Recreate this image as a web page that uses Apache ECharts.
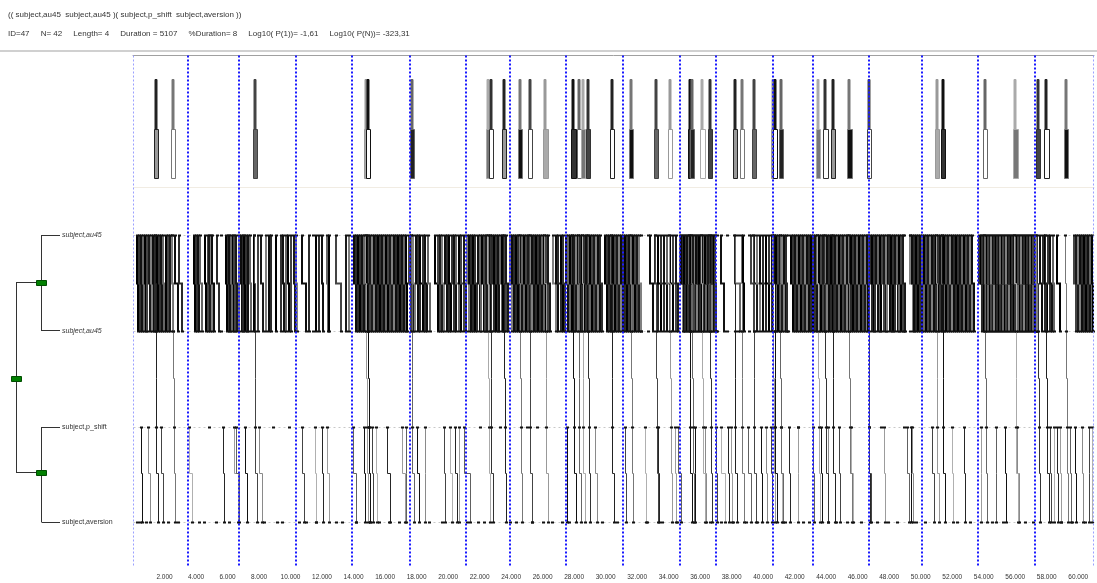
<!DOCTYPE html>
<html><head><meta charset="utf-8">
<script src="https://cdn.jsdelivr.net/npm/echarts@6/dist/echarts.min.js"></script>
<style>html,body{margin:0;padding:0;background:#fff}#c{width:1097px;height:583px}</style>
</head><body><div id="c"></div>
<script>
// ---------- data ----------
const headerLine1 = '(( subject,au45  subject,au45 )( subject,p_shift  subject,aversion ))';
const headerLine2 = 'ID=47     N= 42     Length= 4     Duration = 5107     %Duration= 8     Log10( P(1))= -1,61     Log10( P(N))= -323,31';
const rowLabels = ['subject,au45', 'subject,au45', 'subject,p_shift', 'subject,aversion'];
const xMin = 0, xMax = 61000, xTickInterval = 2000;
const periodMarks = [3519, 6703, 10335, 13918, 17570, 21158, 23899, 27487, 31114, 34703, 37019, 40652, 43139, 46728, 50057, 53646, 57272];
const rangeEdges = [0, 60905];

// pattern occurrences: [au45 first, au45 second, p_shift, aversion]
const occurrences = [
[1367,1440,1470,1560],[2488,2550,2590,2690],[7653,7720,7760,7860],[14724,14800,14840,14930],[14851,14920,14960,15050],[17636,17700,17740,17850],[22466,22540,22580,22670],[22636,22700,22730,22830],[23478,23550,23590,23680],[24516,24580,24620,24720],[25105,25170,25200,25310],[26118,26190,26230,26320],[27890,27960,28000,28090],[28226,28290,28330,28420],[28479,28540,28580,28680],[28840,28910,28950,29040],[30315,30380,30420,30520],[31542,31610,31650,31740],[33125,33190,33230,33330],[34011,34080,34120,34210],[35277,35340,35380,35480],[35442,35510,35550,35640],[36075,36140,36180,36280],[36563,36630,36670,36760],[38126,38190,38230,38330],[38569,38640,38680,38770],[39348,39410,39450,39550],[40582,40650,40690,40780],[40677,40740,40780,40880],[41037,41100,41140,41240],[43417,43480,43520,43620],[43886,43950,43990,44090],[44348,44420,44460,44550],[45405,45470,45510,45610],[46627,46690,46730,46830],[50950,51020,51060,51150],[51330,51390,51430,51530],[54014,54080,54120,54220],[55951,56020,56060,56150],[57388,57450,57490,57590],[57913,57980,58020,58120],[59179,59240,59280,59380]
];

// au45 -> au45 pairs [first, second]
const au45Pairs = [
[260,300],[386,420],[481,560],[639,700],[734,800],[861,900],[1019,1080],[1114,1180],[1272,1330],[1367,1420],[1494,1560],[1652,1700],[1779,1840],[1905,1960],[2064,2110],[2190,2250],[2317,2370],[2475,2540],[2697,2886],[2950,3140],
[3899,3950],[4026,4080],[4153,4210],[4279,4406],[4596,4650],[4741,4790],[4849,4900],[4956,5010],[5020,5110],[5311,5437],[5906,5960],[6007,6070],[6115,6170],[6222,6280],[6324,6380],[6431,6490],[6539,6600],[6703,6760],[6855,6930],
[6957,7010],[7064,7120],[7172,7230],[7273,7330],[7425,7500],[7697,7710],[7906,7930],[8121,8236],[8438,8450],[8602,8630],[8754,8770],[9071,9090],[9387,9400],[9533,9560],[9704,9720],[9869,9890],[10020,10040],[10229,10260],[10375,10390],[10717,10989],[11179,11190],[11603,11630],[11812,11830],[12021,12050],[12338,12350],[12445,12470],[12869,13185],[13502,13520],[13711,13740],
[14028,14150],[14154,14290],[14281,14380],[14408,14540],[14534,14640],[14661,14800],[14787,14900],[14914,15050],[15040,15160],[15167,15300],[15294,15410],[15420,15560],[15547,15660],[15673,15810],[15800,15920],[15926,16060],[16053,16170],[16180,16320],[16306,16420],[16433,16570],[16559,16680],[16686,16820],[16812,16930],[16939,17080],[17066,17180],[17192,17300],[17300,17390],
[17509,17620],[17636,17790],[17794,17930],[17952,18070],[18079,18240],[18237,18380],[18395,18550],[18553,18690],[18712,18838],
[19199,19340],[19345,19460],[19471,19630],[19629,19770],[19788,19910],[19914,20070],[20073,20210],[20231,20360],[20358,20500],[20516,20670],[20674,20810],[20832,20990],[20990,21110],
[21180,21300],[21307,21430],[21433,21550],[21560,21720],[21718,21860],[21876,22000],[22003,22120],[22129,22260],[22256,22370],[22383,22500],[22509,22640],[22636,22750],[22763,22890],[22889,23010],[23016,23140],[23142,23260],[23269,23400],[23396,23510],[23522,23650],[23649,23780],
[23934,24060],[24061,24180],[24187,24320],[24314,24430],[24441,24570],[24567,24690],[24694,24830],[24820,24940],[24947,25080],[25073,25190],[25200,25330],[25327,25450],[25453,25590],[25580,25700],[25706,25840],[25833,25950],[25959,26090],[26086,26210],[26213,26340],[26339,26450],
[26687,26840],[26845,27000],[27004,27150],[27162,27310],[27320,27400],
[27510,27640],[27637,27760],[27763,27890],[27890,28020],[28016,28140],[28143,28270],[28270,28400],[28396,28520],[28523,28650],[28649,28780],[28776,28900],[28902,29030],[29029,29160],[29156,29280],[29282,29410],[29409,29530],[29535,29660],[29662,29760],
[29979,30100],[30105,30230],[30232,30360],[30359,30480],[30485,30610],[30612,30740],[30738,30860],[30865,30990],[30991,31120],[31118,31250],[31245,31370],[31371,31500],[31498,31620],[31624,31750],[31751,31880],[31877,32000],[32004,32130],[32131,32230],
[32808,33017],[33144,33320],[33334,33510],[33524,33700],[33714,33890],[33904,34080],[34093,34270],[34283,34460],[34473,34600],
[34695,34880],[34790,34980],[34885,35070],[34980,35170],[35075,35260],[35170,35360],[35265,35450],[35360,35550],[35455,35640],[35550,35740],[35644,35830],[35739,35930],[35834,36020],[35929,36120],[36024,36210],[36119,36310],[36214,36400],[36309,36500],[36404,36590],[36499,36690],[36594,36780],[36689,36880],[36784,36970],[36879,36990],[36974,37010],
[37322,37512],[38208,38524],[38714,38760],
[39221,39400],[39411,39590],[39601,39790],[39791,39980],[39981,40170],[40171,40360],[40361,40550],[40551,40640],
[40677,40800],[40804,40930],[40930,41050],[41057,41180],[41184,41310],[41310,41430],[41437,41520],
[41753,41880],[41880,42000],[42006,42130],[42133,42260],[42260,42380],[42386,42510],[42513,42640],[42639,42760],[42766,42890],[42893,43010],[43019,43140],
[43145,43270],[43272,43400],[43399,43520],[43525,43650],[43652,43780],[43778,43900],[43905,44030],[44031,44160],[44158,44280],[44285,44410],[44411,44540],[44538,44660],[44664,44790],[44791,44920],[44917,45040],[45044,45170],[45171,45300],[45297,45420],[45424,45550],[45550,45680],[45677,45800],[45803,45930],[45930,46060],[46057,46180],[46183,46310],[46310,46440],[46436,46560],[46563,46680],
[46754,46880],[46880,47010],[47007,47130],[47133,47260],[47260,47390],[47386,47510],[47513,47640],[47640,47770],[47766,47890],[47893,48020],[48019,48150],[48146,48270],[48272,48400],[48399,48530],[48526,48650],[48652,48780],[48779,48900],[48905,48990],
[49350,49480],[49477,49600],[49603,49730],[49730,49860],[49856,49980],[49983,50110],[50110,50240],[50236,50360],[50363,50490],[50489,50620],[50616,50740],[50742,50870],[50869,51000],[50996,51120],[51122,51250],[51249,51380],[51375,51500],[51502,51630],[51628,51750],[51755,51880],[51882,52010],[52008,52130],[52135,52260],[52261,52390],[52388,52510],[52514,52640],[52641,52770],[52768,52890],[52894,53020],[53021,53150],[53147,53270],[53274,53380],
[53717,53900],[53812,54000],[53907,54090],[54002,54190],[54097,54290],[54192,54380],[54287,54480],[54382,54570],[54476,54670],[54571,54760],[54666,54850],[54761,54950],[54856,55040],[54951,55140],[55046,55230],[55141,55330],[55236,55420],[55331,55520],[55426,55610],[55521,55710],[55616,55800],[55711,55900],[55806,55990],[55901,56090],[55996,56180],[56091,56280],[56186,56370],[56281,56470],[56376,56560],[56471,56660],[56566,56750],[56661,56850],[56756,56940],[56851,57040],[56946,57130],[57041,57230],[57136,57300],[57231,57330],[57326,57380],
[57578,57720],[57736,57880],[57895,58040],[58053,58200],[58211,58360],[58370,58450],[58654,58844],
[59732,59860],[59859,59980],[59985,60110],[60112,60240],[60239,60360],[60365,60490],[60492,60620],[60618,60740],[60745,60870],[60871,60930]
];

// p_shift -> aversion pairs [p_shift, aversion]
const pshiftPairs = [
[525,560],[943,1051],[1791,1893],[3583,3728],[5691,5750],[6431,6640],[6539,6748],[7128,7210],[8014,8185],[10755,10862],[11559,11620],[11983,12065],[12337,12445],[13964,14135],[14660,14720],[14977,15040],[15186,15230],[15401,15460],[16135,16306],[17085,17256],[17300,17340],[18034,18142],[18522,18560],[19725,19832],[20148,20250],[20465,20567],[20674,20720],[20990,21415],[27529,27580],[29327,29428],[31226,31280],[32492,32540],[33334,33380],[34391,34440],[34600,34809],[35657,35700],[36290,36340],[37025,37080],[37342,37556],[37766,37800],[37974,38020],[39031,39240],[39873,39920],[40190,40240],[40506,40560],[41125,41170],[41670,41720],[42196,42240],[43145,43253],[43671,43720],[44095,44140],[44836,44880],[45570,45677],[46734,46780],[47684,47730],[49160,49266],[49368,49400],[49476,49520],[50745,50849],[51981,52020],[52748,52800],[53800,53850],[54750,54800],[55381,55420],[56122,56229],[58231,58280],[58445,58490],[58654,58700],[58864,58900],[59497,59540],[59813,59860],[60239,60280],[60661,60700],[60871,60900]
];

// isolated (unpaired) events on each row
const au45Dots = [5600, 11400, 32270, 32700, 37060, 37700, 38400, 39100, 41570, 48970, 49290];
const pshiftDots = [4849, 8856, 9913, 22049, 23313, 24997, 25630, 42196, 47450, 48950];
const aversionDots = [228,420,842,2209,2842,4216,4532,5273,6115,8330,9172,9489,10545,10970,11603,12869,13287,14135,15610,16243,16876,18775,19617,21200,21900,22300,23900,24300,25300,26000,26600,27200,27700,29800,30700,32600,33600,34500,36600,37300,38100,38900,39600,41400,42500,42900,44600,45300,46200,47200,47900,48500,49700,50300,52300,53100,54500,55200,56600,57100,58900,59600,60400];

// ---------- layout (pixel offsets from plot top) ----------
const Y = { topA: 24, topB: 74, topC: 123, beige: 132, row1: 180, mid1: 228, row2: 276, midC: 323, row3: 372, mid2: 418, row4: 467, end: 511 };
const AU_SHADES = ['#000000', '#333333', '#111111', '#666666', '#000000', '#444444', '#1a1a1a', '#808080', '#0d0d0d', '#2b2b2b'];
const PS_SHADES = ['#111111', '#8a8a8a', '#444444', '#b0b0b0', '#262626', '#9c9c9c', '#606060'];
const OCC_SHADES = ['#222222', '#777777', '#444444', '#999999', '#111111', '#666666', '#aaaaaa', '#333333'];

function P(api, t, y, even) { const c = api.coord([t, y]); const o = even ? 0 : 0.5; return [Math.round(c[0]) + o, Math.round(c[1]) + 0.5]; }
function tick(pt) { return { type: 'rect', shape: { x: Math.floor(pt[0]) - 1, y: Math.floor(pt[1]) - 0.5, width: 3, height: 2 }, style: { fill: '#111' } }; }
function poly(points, color, w) { return { type: 'polyline', shape: { points: points }, style: { stroke: color, lineWidth: w || 1, fill: null } }; }

function stepItem(api, color, w, yTop, yMid, yBot) {
  const a = api.value(0), b = api.value(1), ev = (w % 2 === 0);
  const p1 = P(api, a, yTop, ev), p2 = P(api, a, yMid, ev), p3 = P(api, b, yMid, ev), p4 = P(api, b, yBot, ev);
  return { type: 'group', children: [poly([p1, p2, p3, p4], color, w), tick(p1), tick(p4)] };
}

const chart = echarts.init(document.getElementById('c'));
const option = {
  animation: false,
  backgroundColor: '#fff',
  grid: { left: 133, width: 964, top: 55, height: 514 },
  xAxis: {
    type: 'value', min: xMin, max: xMax, interval: xTickInterval,
    axisLine: { show: true, lineStyle: { color: '#a0a0a0', width: 1 } },
    axisTick: { show: false }, splitLine: { show: false },
    axisLabel: { fontSize: 6.5, color: '#333', fontFamily: 'Liberation Sans', margin: 5,
      formatter: v => (v > 0 && v % xTickInterval === 0) ? (v / 1000).toFixed(3) : '' }
  },
  yAxis: { type: 'value', min: 0, max: 514, inverse: true, show: false },
  graphic: [
    { type: 'text', left: 8, top: 11, style: { text: headerLine1, fontSize: 8, fontFamily: 'Liberation Sans', fill: '#333' } },
    { type: 'text', left: 8, top: 30, style: { text: headerLine2, fontSize: 8, fontFamily: 'Liberation Sans', fill: '#333' } },
    { type: 'line', shape: { x1: 0, y1: 51, x2: 1097, y2: 51 }, style: { stroke: '#d0d0d0', lineWidth: 2 } },
    // tree
    { type: 'line', shape: { x1: 16.5, y1: 282, x2: 16.5, y2: 473 }, style: { stroke: '#333', lineWidth: 1 } },
    { type: 'line', shape: { x1: 16.5, y1: 282.5, x2: 41.5, y2: 282.5 }, style: { stroke: '#333', lineWidth: 1 } },
    { type: 'line', shape: { x1: 16.5, y1: 472.5, x2: 41.5, y2: 472.5 }, style: { stroke: '#333', lineWidth: 1 } },
    { type: 'line', shape: { x1: 41.5, y1: 235, x2: 41.5, y2: 331 }, style: { stroke: '#333', lineWidth: 1 } },
    { type: 'line', shape: { x1: 41.5, y1: 427, x2: 41.5, y2: 522 }, style: { stroke: '#333', lineWidth: 1 } },
    { type: 'line', shape: { x1: 41.5, y1: 235.5, x2: 60, y2: 235.5 }, style: { stroke: '#333', lineWidth: 1 } },
    { type: 'line', shape: { x1: 41.5, y1: 330.5, x2: 60, y2: 330.5 }, style: { stroke: '#333', lineWidth: 1 } },
    { type: 'line', shape: { x1: 41.5, y1: 427.5, x2: 60, y2: 427.5 }, style: { stroke: '#333', lineWidth: 1 } },
    { type: 'line', shape: { x1: 41.5, y1: 522.5, x2: 60, y2: 522.5 }, style: { stroke: '#333', lineWidth: 1 } },
    { type: 'rect', shape: { x: 11.5, y: 376.5, width: 10, height: 5 }, style: { fill: '#008000', stroke: '#004d00', lineWidth: 1 } },
    { type: 'rect', shape: { x: 36.5, y: 280.5, width: 10, height: 5 }, style: { fill: '#008000', stroke: '#004d00', lineWidth: 1 } },
    { type: 'rect', shape: { x: 36.5, y: 470.5, width: 10, height: 5 }, style: { fill: '#008000', stroke: '#004d00', lineWidth: 1 } },
    { type: 'text', x: 62, y: 235, style: { text: rowLabels[0], fontSize: 7, fontStyle: 'italic', fontFamily: 'Liberation Sans', fill: '#333', verticalAlign: 'middle' } },
    { type: 'text', x: 62, y: 331, style: { text: rowLabels[1], fontSize: 7, fontStyle: 'italic', fontFamily: 'Liberation Sans', fill: '#333', verticalAlign: 'middle' } },
    { type: 'text', x: 62, y: 427, style: { text: rowLabels[2], fontSize: 7, fontFamily: 'Liberation Sans', fill: '#333', verticalAlign: 'middle' } },
    { type: 'text', x: 62, y: 522, style: { text: rowLabels[3], fontSize: 7, fontFamily: 'Liberation Sans', fill: '#333', verticalAlign: 'middle' } }
  ],
  series: [
    { // faint row guides and panel separator
      type: 'custom', clip: false, silent: true, z: 1,
      data: [[xMin, 0]],
      renderItem: (params, api) => {
        const ch = [];
        const a = P(api, xMin, Y.beige), b = P(api, xMax, Y.beige);
        ch.push({ type: 'line', shape: { x1: a[0], y1: a[1], x2: b[0], y2: b[1] }, style: { stroke: '#f1ece3', lineWidth: 1 } });
        [Y.row1, Y.row2, Y.row3, Y.row4].forEach(y => {
          const s = P(api, xMin, y), e = P(api, xMax, y);
          ch.push({ type: 'line', shape: { x1: s[0], y1: s[1], x2: e[0], y2: e[1] }, style: { stroke: '#c8c8c8', lineWidth: 1, lineDash: [2, 3] } });
        });
        return { type: 'group', children: ch };
      }
    },
    { // au45 pairs
      type: 'custom', clip: false, silent: true, z: 3,
      data: au45Pairs,
      renderItem: (params, api) => stepItem(api, AU_SHADES[params.dataIndex % AU_SHADES.length], 2, Y.row1, Y.mid1, Y.row2)
    },
    { // p_shift -> aversion pairs
      type: 'custom', clip: false, silent: true, z: 3,
      data: pshiftPairs,
      renderItem: (params, api) => stepItem(api, PS_SHADES[params.dataIndex % PS_SHADES.length], 1, Y.row3, Y.mid2, Y.row4)
    },
    { // pattern occurrences: top boxes + connecting path
      type: 'custom', clip: false, silent: true, z: 4,
      data: occurrences,
      renderItem: (params, api) => {
        const a1 = api.value(0), a2 = api.value(1), p = api.value(2), v = api.value(3);
        const i = params.dataIndex;
        const col = OCC_SHADES[i % OCC_SHADES.length];
        const tA = P(api, a1, Y.topA), tB = P(api, a2, Y.topB), bA = P(api, a1, Y.topB), bB = P(api, v, Y.topC);
        const topRect = { type: 'rect', shape: { x: tA[0] - 0.5, y: tA[1], width: Math.max(2, tB[0] - tA[0]), height: tB[1] - tA[1] }, style: { fill: col, stroke: col, lineWidth: 1 } };
        const botRect = { type: 'rect', shape: { x: bA[0] - 1, y: bA[1], width: Math.max(3, bB[0] - bA[0] + 1), height: bB[1] - bA[1] }, style: { fill: i % 3 === 1 ? '#ffffff' : OCC_SHADES[(i + 3) % OCC_SHADES.length], stroke: col, lineWidth: 1 } };
        const path = [P(api, a1, Y.row1), P(api, a1, Y.mid1), P(api, a2, Y.mid1), P(api, a2, Y.row2), P(api, a2, Y.midC), P(api, p, Y.midC), P(api, p, Y.row3), P(api, p, Y.mid2), P(api, v, Y.mid2), P(api, v, Y.row4)];
        return { type: 'group', children: [topRect, botRect, poly(path, col, 1), tick(path[0]), tick(path[3]), tick(path[6]), tick(path[9])] };
      }
    },
    { // isolated events
      type: 'custom', clip: false, silent: true, z: 4,
      data: au45Dots.map(t => [t, 0, 0]).concat(pshiftDots.map(t => [t, 0, 1])).concat(aversionDots.map(t => [t, 0, 2])),
      renderItem: (params, api) => {
        const t = api.value(0), k = api.value(2);
        if (k === 0) return { type: 'group', children: [tick(P(api, t, Y.row1)), tick(P(api, t, Y.row2))] };
        return tick(P(api, t, k === 1 ? Y.row3 : Y.row4));
      }
    },
    { // period boundaries (blue dotted)
      type: 'custom', clip: false, silent: true, z: 6,
      data: periodMarks.map(t => [t, 0]),
      renderItem: (params, api) => {
        const s = P(api, api.value(0), 0, true), e = P(api, api.value(0), Y.end, true);
        return { type: 'line', shape: { x1: s[0], y1: s[1], x2: e[0], y2: e[1] }, style: { stroke: '#1a1aff', lineWidth: 2, lineDash: [2, 2] } };
      }
    },
    { // observation range edges
      type: 'custom', clip: false, silent: true, z: 6,
      data: rangeEdges.map(t => [t, 0]),
      renderItem: (params, api) => {
        const s = P(api, api.value(0), 0), e = P(api, api.value(0), Y.end);
        return { type: 'line', shape: { x1: s[0], y1: s[1], x2: e[0], y2: e[1] }, style: { stroke: '#9aa0ff', lineWidth: 1, lineDash: [2, 2] } };
      }
    }
  ]
};
chart.setOption(option);
</script>
</body></html>
